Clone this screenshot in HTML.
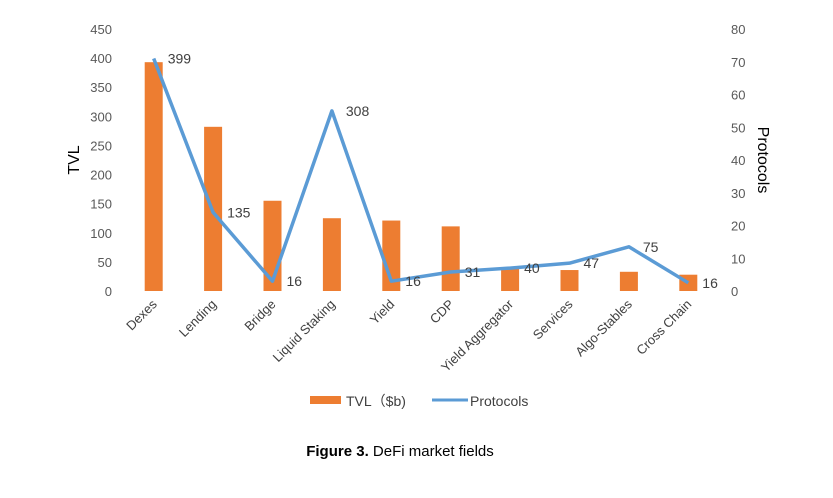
<!DOCTYPE html>
<html><head><meta charset="utf-8"><style>
body{margin:0;background:#fff;}
svg text{font-family:"Liberation Sans",sans-serif;}
</style></head><body>
<svg id="chart" width="833" height="493" xmlns="http://www.w3.org/2000/svg">
<g id="axes"></g><g id="bars"></g><g id="line"></g><g id="labels"></g>
<text transform="translate(79,160) rotate(-90)" text-anchor="middle" font-size="16" fill="#000">TVL</text>
<text transform="translate(758,160) rotate(90)" text-anchor="middle" font-size="16" fill="#000">Protocols</text>
<g>
<rect x="310" y="396" width="31" height="8" fill="#ED7D31"/>
<text x="346" y="406" font-size="14" fill="#404040">TVL（$b)</text>
<line x1="432" y1="400" x2="468" y2="400" stroke="#5B9BD5" stroke-width="3"/>
<text x="470" y="406" font-size="14" fill="#404040">Protocols</text>
</g>
<text x="400" y="456" text-anchor="middle" font-size="15" fill="#000"><tspan font-weight="bold">Figure 3.</tspan> DeFi market fields</text>
</svg>
<script>
const categories=["Dexes","Lending","Bridge","Liquid Staking","Yield","CDP","Yield Aggregator","Services","Algo-Stables","Cross Chain"];
const tvl=[393,282,155,125,121,111,38,36,33,28];
const protocols=[71,24,3,55,3,5.8,7,8.5,13.5,2.5];
const protocolLabels=["399","135","16","308","16","31","40","47","75","16"];
const leftTicks=[0,50,100,150,200,250,300,350,400,450];
const rightTicks=[0,10,20,30,40,50,60,70,80];
const NS="http://www.w3.org/2000/svg";
const x0=124,x1=718,yb=291,yt=29;
const band=(x1-x0)/categories.length;
const xc=i=>x0+band*(i+0.5);
const yL=v=>yb-(v/450)*(yb-yt);
const yR=v=>yb-(v/80)*(yb-yt);
function mk(tag,attrs,parent){const e=document.createElementNS(NS,tag);for(const k in attrs)e.setAttribute(k,attrs[k]);document.getElementById(parent).appendChild(e);return e;}
leftTicks.forEach(t=>{const e=mk('text',{x:112,y:yL(t)+5,'text-anchor':'end','font-size':13,fill:'#595959'},'axes');e.textContent=t;

});
rightTicks.forEach(t=>{const e=mk('text',{x:731,y:yR(t)+5,'font-size':13,fill:'#595959'},'axes');e.textContent=t;

});
categories.forEach((c,i)=>{const e=mk('text',{transform:`translate(${xc(i)+4},${yb+14}) rotate(-45)`,'text-anchor':'end','font-size':13,fill:'#404040'},'axes');e.textContent=c;


const b=mk('rect',{x:xc(i)-9,y:yL(tvl[i]),width:18,height:yb-yL(tvl[i]),fill:'#ED7D31'},'bars');


const l=mk('text',{x:xc(i)+14,y:yR(protocols[i])+5,'font-size':14,fill:'#404040'},'labels');l.textContent=protocolLabels[i];

});
const p=mk('polyline',{points:protocols.map((v,i)=>xc(i)+','+yR(v)).join(' '),fill:'none',stroke:'#5B9BD5','stroke-width':3.5,'stroke-linejoin':'round'},'line');


</script>
</body></html>
